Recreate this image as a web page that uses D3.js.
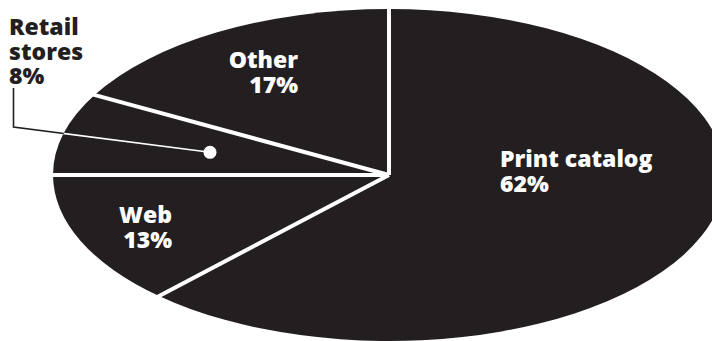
<!DOCTYPE html>
<html><head><meta charset="utf-8">
<script src="https://cdn.jsdelivr.net/npm/d3@7"></script>
<style>html,body{margin:0;padding:0;background:#fff;overflow:hidden}</style>
</head><body>
<svg id="chart" width="712" height="341"></svg>
<script>
const categories = ["Print catalog", "Web", "Retail stores", "Other"];
const values = [62, 13, 8, 17];
const labelLines = [["Print catalog", "62%"], ["Web", "13%"], ["Retail", "stores", "8%"], ["Other", "17%"]];

const W = 712, H = 341;
const cx = 389, cy = 175, rx = 336, ry = 166, R = 100;
const fill = "#231f20";
const svg = d3.select("#chart");

const pie = d3.pie().sort(null).value(d => d);
const arcs = pie(values);
const arc = d3.arc().innerRadius(0).outerRadius(R);

const g = svg.append("g").attr("transform", `translate(${cx},${cy})`);
const scaled = g.append("g").attr("transform", `scale(${rx / R},${ry / R})`);

svg.append("defs").append("clipPath").attr("id", "ell")
  .append("ellipse").attr("cx", cx).attr("cy", cy).attr("rx", rx).attr("ry", ry);

scaled.selectAll("path.slice").data(arcs).join("path")
  .attr("class", "slice").attr("d", arc).attr("fill", fill);

// radial separators
const edge = a => [rx * Math.sin(a), -ry * Math.cos(a)];
g.selectAll("line.sep").data(arcs).join("line")
  .attr("class", "sep")
  .attr("x1", 0).attr("y1", 0)
  .attr("x2", d => edge(d.startAngle)[0] * 1.02)
  .attr("y2", d => edge(d.startAngle)[1] * 1.02)
  .attr("stroke", "#fff").attr("stroke-width", 4).attr("stroke-linecap", "butt");

// leader for Retail stores
const ret = arcs[2];
const mid = (ret.startAngle + ret.endAngle) / 2;
const k = 0.55;
const dot = [cx + rx * k * Math.sin(mid), cy - ry * k * Math.cos(mid)];
const leader = `M13.5,88 L13.5,127 L${dot[0]},${dot[1]}`;
svg.append("path").attr("d", leader).attr("fill", "none").attr("stroke", fill).attr("stroke-width", 1.6);
svg.append("path").attr("d", leader).attr("fill", "none").attr("stroke", "#fff").attr("stroke-width", 1.6)
  .attr("clip-path", "url(#ell)");
svg.append("circle").attr("cx", dot[0]).attr("cy", dot[1]).attr("r", 6.5).attr("fill", "#fff");

// labels
const labelPos = [
  { x: 500, y: 167, anchor: "start", color: "#fff" },
  { x: 172, y: 223, anchor: "end", color: "#fff" },
  { x: 9, y: 35, anchor: "start", color: fill },
  { x: 298, y: 68, anchor: "end", color: "#fff" }
];
const lh = 24.5;
labelLines.forEach((lines, i) => {
  const p = labelPos[i];
  const t = svg.append("text")
    .attr("x", p.x).attr("y", p.y)
    .attr("text-anchor", p.anchor)
    .attr("fill", p.color)
    .style("font-family", "'Open Sans', sans-serif")
    .style("font-weight", 800)
    .style("font-size", "23px");
  lines.forEach((s, j) => {
    t.append("tspan").attr("x", p.x).attr("y", p.y + j * lh).text(s);
  });
});
</script>
</body></html>
